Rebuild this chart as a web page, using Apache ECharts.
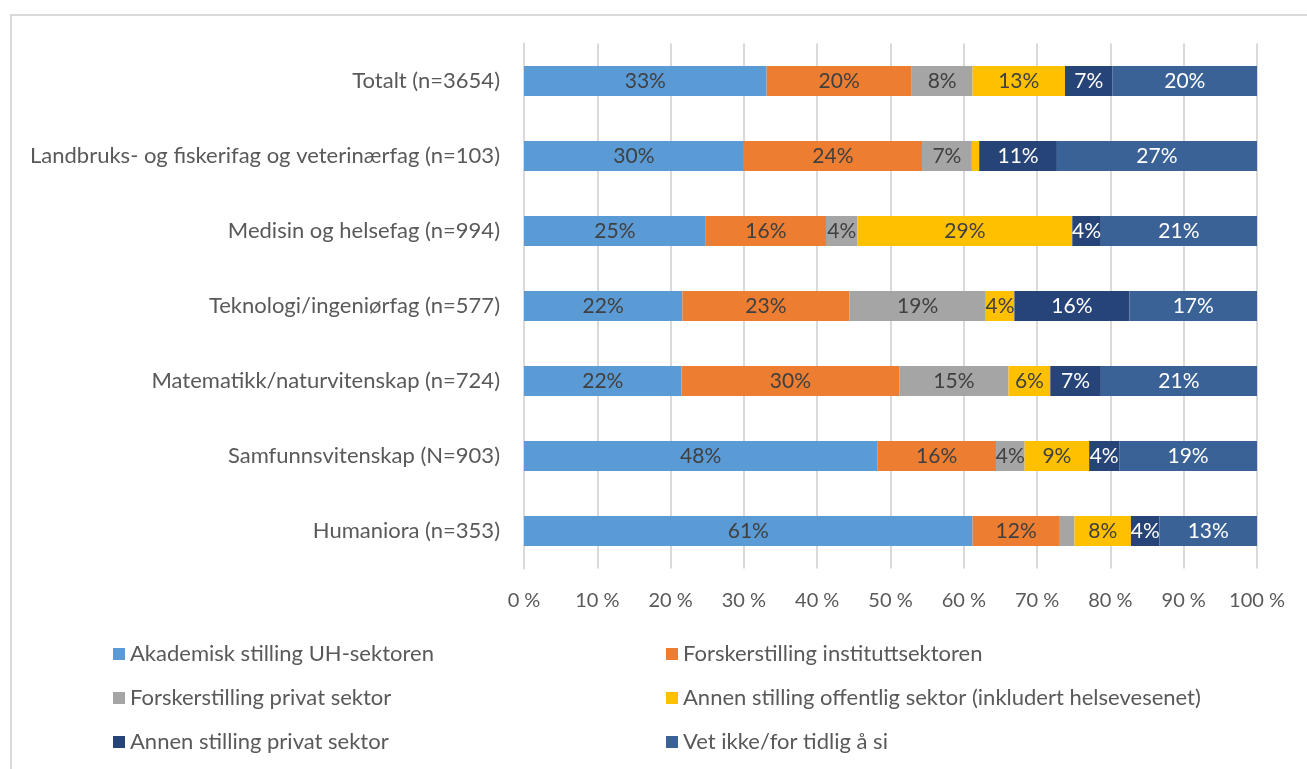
<!DOCTYPE html>
<html>
<head>
<meta charset="utf-8">
<script src="https://cdn.jsdelivr.net/npm/echarts@6/dist/echarts.min.js"></script>
<style>
  html, body { margin: 0; padding: 0; background: #fff; }
  #frame { position: absolute; left: 10px; top: 14px; width: 1320px; height: 800px;
           border: 2px solid #d9d9d9; box-sizing: border-box; }
  #chart { position: absolute; left: 0; top: 0; width: 1307px; height: 769px; }
</style>
</head>
<body>
<div id="frame"></div>
<div id="chart"></div>
<script>
// Fields of study (top to bottom)
const categories = [
  'Totalt (n=3654)',
  'Landbruks- og fiskerifag og veterinærfag (n=103)',
  'Medisin og helsefag (n=994)',
  'Teknologi/ingeniørfag (n=577)',
  'Matematikk/naturvitenskap (n=724)',
  'Samfunnsvitenskap (N=903)',
  'Humaniora (n=353)'
];

// Share (%) of respondents by expected position, one array per answer
const akademiskUH      = [33.1, 30.0, 24.8, 21.6, 21.5, 48.2, 61.2];
const forskerInstitutt = [19.8, 24.3, 16.4, 22.8, 29.7, 16.2, 11.9];
const forskerPrivat    = [ 8.3,  6.8,  4.3, 18.6, 14.9,  3.9,  2.0];
const annenOffentlig   = [12.6,  1.0, 29.3,  3.9,  5.7,  8.8,  7.7];
const annenPrivat      = [ 6.5, 10.6,  3.9, 15.7,  6.9,  4.1,  3.9];
const vetIkke          = [19.7, 27.3, 21.3, 17.4, 21.3, 18.8, 13.3];

const seriesNames = [
  'Akademisk stilling UH-sektoren',
  'Forskerstilling instituttsektoren',
  'Forskerstilling privat sektor',
  'Annen stilling offentlig sektor (inkludert helsevesenet)',
  'Annen stilling privat sektor',
  'Vet ikke/for tidlig å si'
];
const seriesData = [akademiskUH, forskerInstitutt, forskerPrivat, annenOffentlig, annenPrivat, vetIkke];
const seriesColors = ['#5B9BD5', '#ED7D31', '#A5A5A5', '#FFC000', '#264478', '#3A6296'];
const labelColors  = ['#404040', '#404040', '#404040', '#404040', '#ffffff', '#ffffff'];

const xTicks = { min: 0, max: 100, interval: 10 };

const FONT = 'Lato';
const TEXT = '#595959';

const chart = echarts.init(document.getElementById('chart'), null, { renderer: 'canvas' });

const series = seriesNames.map((name, i) => ({
  name: name,
  type: 'bar',
  stack: 'total',
  barWidth: 30,
  data: seriesData[i],
  itemStyle: { color: seriesColors[i] },
  emphasis: { disabled: true },
  label: {
    show: true,
    position: 'inside',
    color: labelColors[i],
    fontFamily: FONT,
    fontSize: 21,
    formatter: p => (p.value >= 3 ? Math.round(p.value) + '%' : '')
  }
}));

const legendText = { color: TEXT, fontFamily: FONT, fontSize: 22, lineHeight: 24 };

chart.setOption({
  animation: false,
  backgroundColor: 'transparent',
  grid: { left: 524, right: 50, top: 43.5, bottom: 769 - 568.5, containLabel: false },
  xAxis: {
    type: 'value',
    min: xTicks.min,
    max: xTicks.max,
    interval: xTicks.interval,
    axisLine: { show: false },
    axisTick: { show: false },
    splitLine: { show: true, lineStyle: { color: '#d9d9d9', width: 2 } },
    axisLabel: { color: TEXT, fontFamily: FONT, fontSize: 20, margin: 22, formatter: '{value} %' }
  },
  yAxis: {
    type: 'category',
    inverse: true,
    data: categories,
    axisLine: { show: true, lineStyle: { color: '#d9d9d9', width: 2 } },
    axisTick: { show: false },
    axisLabel: { color: TEXT, fontFamily: FONT, fontSize: 22, margin: 24 }
  },
  legend: [
    {
      orient: 'vertical', left: 108, top: 637,
      itemWidth: 12, itemHeight: 12, itemGap: 20, icon: 'rect',
      selectedMode: false,
      textStyle: legendText,
      data: [seriesNames[0], seriesNames[2], seriesNames[4]]
    },
    {
      orient: 'vertical', left: 661, top: 637,
      itemWidth: 12, itemHeight: 12, itemGap: 20, icon: 'rect',
      selectedMode: false,
      textStyle: legendText,
      data: [seriesNames[1], seriesNames[3], seriesNames[5]]
    }
  ],
  series: series
});
</script>
</body>
</html>
